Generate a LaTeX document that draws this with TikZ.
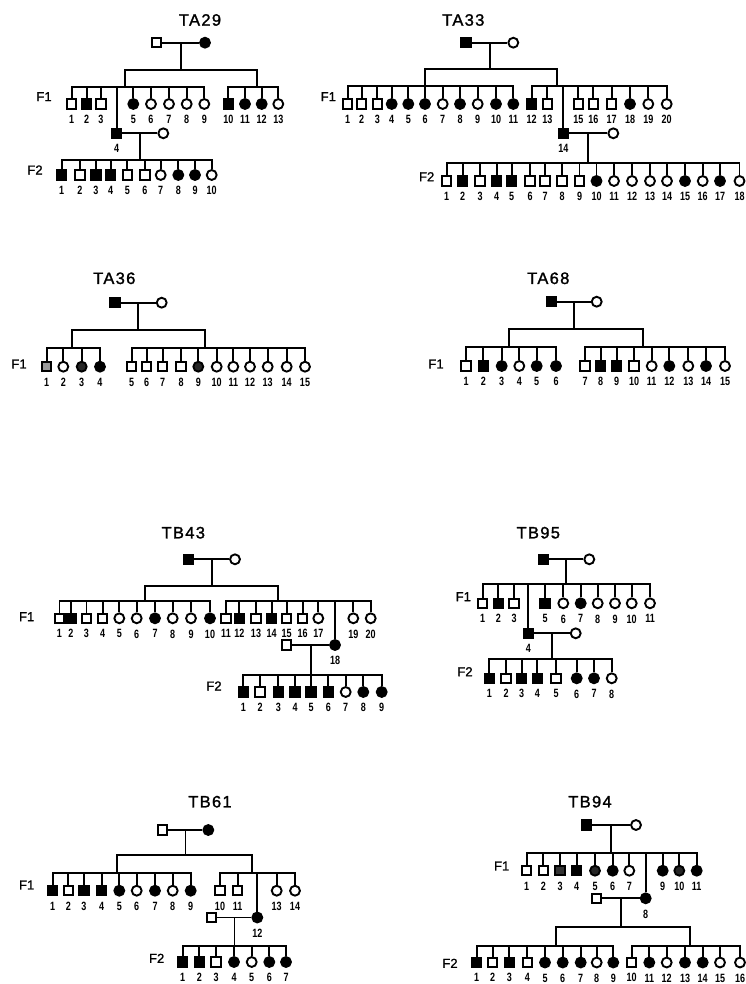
\documentclass[tikz,border=0pt]{standalone}
\usepackage{fontspec}
\setmainfont{Liberation Sans}
\newfontfamily\numfont{Liberation Sans}[FakeStretch=0.75]
\newfontfamily\genfont{Liberation Sans}[FakeBold=1.2]
\newfontfamily\titlefont{Liberation Sans}[LetterSpace=8,FakeBold=1.4]
\usetikzlibrary{calc}

\tikzset{
  ind/.style={draw, inner sep=0pt},
  msq/.style={ind, rectangle, minimum size=9.4pt},
  asq/.style={msq, fill=black},
  dsq/.style={msq, fill=black!80},
  gsq/.style={msq, fill=black!40},
  fci/.style={ind, circle, minimum size=9.9pt},
  aci/.style={fci, fill=black},
  dci/.style={fci, fill=black!85},
  nlab/.style={font=\numfont\bfseries\fontsize{12}{12}\selectfont, inner sep=0pt},
  gen/.style={font=\genfont\fontsize{13}{13}\selectfont, inner sep=0pt},
  ttl/.style={font=\titlefont\fontsize{16.5}{16.5}\selectfont, inner sep=0pt},
  every label/.style={nlab}
}

\begin{document}
\begin{tikzpicture}[x=1pt,y=-1pt,line width=1.9pt,label distance=4.5pt]
	\useasboundingbox (0,0) rectangle (745,984);

	% ---------------- TA29
	\node[ttl] (a29t)  at (200,20)      {TA29};
	\node[msq] (a29pa) at (156.7,42.7)  {};
	\node[aci] (a29ma) at (205,42.7)    {};
	\node[gen] (a29F1) at (44,96.7)     {F1};
	\node[gen] (a29F2) at (35,170)      {F2};
	\node[msq,label=below:1]  (a29a1)  at (71.7,104)   {};
	\node[asq,label=below:2]  (a29a2)  at (86.7,104)   {};
	\node[msq,label=below:3]  (a29a3)  at (101,104)    {};
	\node[asq,label=below:4]  (a29a4)  at (116.7,133.3) {};
	\node[aci,label=below:5]  (a29a5)  at (133.3,104)  {};
	\node[fci,label=below:6]  (a29a6)  at (151,104)    {};
	\node[fci,label=below:7]  (a29a7)  at (169,104)    {};
	\node[fci,label=below:8]  (a29a8)  at (186.7,104)  {};
	\node[fci,label=below:9]  (a29a9)  at (204.3,104)  {};
	\node[asq,label=below:10] (a29a10) at (228.3,104)  {};
	\node[aci,label=below:11] (a29a11) at (245,104)    {};
	\node[aci,label=below:12] (a29a12) at (261.7,104)  {};
	\node[fci,label=below:13] (a29a13) at (278.3,104)  {};
	\node[fci]                (a29sp)  at (163.3,133.3) {};
	\node[asq,label=below:1]  (a29b1)  at (61.7,175)   {};
	\node[msq,label=below:2]  (a29b2)  at (80,175)     {};
	\node[asq,label=below:3]  (a29b3)  at (96,175)     {};
	\node[asq,label=below:4]  (a29b4)  at (110.7,175)  {};
	\node[msq,label=below:5]  (a29b5)  at (127.3,175)  {};
	\node[msq,label=below:6]  (a29b6)  at (145,175)    {};
	\node[fci,label=below:7]  (a29b7)  at (160.7,175)  {};
	\node[aci,label=below:8]  (a29b8)  at (178.3,175)  {};
	\node[aci,label=below:9]  (a29b9)  at (195,175)    {};
	\node[fci,label=below:10] (a29b10) at (211.7,175)  {};
	\coordinate (a29m)  at ($(a29pa)!.5!(a29ma)$);
	\coordinate (a29s)  at (a29m |- 0,70);
	\coordinate (a29g1) at (125,86.7);
	\coordinate (a29g2) at (256.7,86.7);
	\coordinate (a29m2) at ($(a29a4)!.5!(a29sp)$);
	\coordinate (a29s2) at (a29m2 |- 0,160);
	\draw (a29pa) -- (a29ma) (a29m) -- (a29s) (a29s) -| (a29g1) (a29s) -| (a29g2);
	\draw (a29g1) -| (a29a1) (a29g1) -| (a29a2) (a29g1) -| (a29a3) (a29g1) -| (a29a4)
	      (a29g1) -| (a29a5) (a29g1) -| (a29a6) (a29g1) -| (a29a7) (a29g1) -| (a29a8)
	      (a29g1) -| (a29a9);
	\draw (a29g2) -| (a29a10) (a29g2) -| (a29a11) (a29g2) -| (a29a12) (a29g2) -| (a29a13);
	\draw (a29a4) -- (a29sp) (a29m2) -- (a29s2);
	\draw (a29s2) -| (a29b1) (a29s2) -| (a29b2) (a29s2) -| (a29b3) (a29s2) -| (a29b4)
	      (a29s2) -| (a29b5) (a29s2) -| (a29b6) (a29s2) -| (a29b7) (a29s2) -| (a29b8)
	      (a29s2) -| (a29b9) (a29s2) -| (a29b10);

	% ---------------- TA33
	\node[ttl] (a33t)  at (463.3,20)    {TA33};
	\node[asq] (a33pa) at (466,42.7)    {};
	\node[fci] (a33ma) at (513.3,42.7)  {};
	\node[gen] (a33F1) at (328.3,96.7)  {F1};
	\node[gen] (a33F2) at (426.7,176.7) {F2};
	\node[msq,label=below:1]  (a33a1)  at (347.7,104) {};
	\node[msq,label=below:2]  (a33a2)  at (361.7,104) {};
	\node[msq,label=below:3]  (a33a3)  at (377.3,104) {};
	\node[aci,label=below:4]  (a33a4)  at (391.7,104) {};
	\node[aci,label=below:5]  (a33a5)  at (408.3,104) {};
	\node[aci,label=below:6]  (a33a6)  at (425,104)   {};
	\node[fci,label=below:7]  (a33a7)  at (442.7,104) {};
	\node[aci,label=below:8]  (a33a8)  at (460,104)   {};
	\node[fci,label=below:9]  (a33a9)  at (477.7,104) {};
	\node[aci,label=below:10] (a33a10) at (496,104)   {};
	\node[aci,label=below:11] (a33a11) at (513.3,104) {};
	\node[asq,label=below:12] (a33a12) at (531.7,104) {};
	\node[msq,label=below:13] (a33a13) at (547.3,104) {};
	\node[asq,label=below:14] (a33a14) at (563.3,133.3) {};
	\node[msq,label=below:15] (a33a15) at (578.3,104) {};
	\node[msq,label=below:16] (a33a16) at (593.3,104) {};
	\node[msq,label=below:17] (a33a17) at (611.7,104) {};
	\node[aci,label=below:18] (a33a18) at (630,104)   {};
	\node[fci,label=below:19] (a33a19) at (648.3,104) {};
	\node[fci,label=below:20] (a33a20) at (666.7,104) {};
	\node[fci]                (a33sp)  at (613.3,133.3) {};
	\node[msq,label=below:1]  (a33b1)  at (446.7,181) {};
	\node[asq,label=below:2]  (a33b2)  at (462.7,181) {};
	\node[msq,label=below:3]  (a33b3)  at (480,181)   {};
	\node[asq,label=below:4]  (a33b4)  at (496.7,181) {};
	\node[asq,label=below:5]  (a33b5)  at (511.7,181) {};
	\node[msq,label=below:6]  (a33b6)  at (530,181)   {};
	\node[msq,label=below:7]  (a33b7)  at (545,181)   {};
	\node[msq,label=below:8]  (a33b8)  at (562,181)   {};
	\node[msq,label=below:9]  (a33b9)  at (579.5,181) {};
	\node[aci,label=below:10] (a33b10) at (596.5,181) {};
	\node[fci,label=below:11] (a33b11) at (614,181)   {};
	\node[fci,label=below:12] (a33b12) at (632,181)   {};
	\node[fci,label=below:13] (a33b13) at (650,181)   {};
	\node[fci,label=below:14] (a33b14) at (667,181)   {};
	\node[aci,label=below:15] (a33b15) at (685,181)   {};
	\node[fci,label=below:16] (a33b16) at (702.7,181) {};
	\node[aci,label=below:17] (a33b17) at (720,181)   {};
	\node[fci,label=below:18] (a33b18) at (739.5,181) {};
	\coordinate (a33m)  at ($(a33pa)!.5!(a33ma)$);
	\coordinate (a33s)  at (a33m |- 0,69.3);
	\coordinate (a33g1) at (425,86);
	\coordinate (a33g2) at (556.7,86);
	\coordinate (a33m2) at ($(a33a14)!.5!(a33sp)$);
	\coordinate (a33s2) at (a33m2 |- 0,162.7);
	\draw (a33pa) -- (a33ma) (a33m) -- (a33s) (a33s) -| (a33g1) (a33s) -| (a33g2);
	\draw (a33g1) -| (a33a1) (a33g1) -| (a33a2) (a33g1) -| (a33a3) (a33g1) -| (a33a4)
	      (a33g1) -| (a33a5) (a33g1) -| (a33a6) (a33g1) -| (a33a7) (a33g1) -| (a33a8)
	      (a33g1) -| (a33a9) (a33g1) -| (a33a10) (a33g1) -| (a33a11);
	\draw (a33g2) -| (a33a12) (a33g2) -| (a33a13) (a33g2) -| (a33a14) (a33g2) -| (a33a15)
	      (a33g2) -| (a33a16) (a33g2) -| (a33a17) (a33g2) -| (a33a18) (a33g2) -| (a33a19)
	      (a33g2) -| (a33a20);
	\draw (a33a14) -- (a33sp) (a33m2) -- (a33s2);
	\draw (a33s2) -| (a33b1) (a33s2) -| (a33b2) (a33s2) -| (a33b3) (a33s2) -| (a33b4)
	      (a33s2) -| (a33b5) (a33s2) -| (a33b6) (a33s2) -| (a33b7) (a33s2) -| (a33b8)
	      (a33s2) -| (a33b9) (a33s2) -| (a33b10) (a33s2) -| (a33b11) (a33s2) -| (a33b12)
	      (a33s2) -| (a33b13) (a33s2) -| (a33b14) (a33s2) -| (a33b15) (a33s2) -| (a33b16)
	      (a33s2) -| (a33b17) (a33s2) -| (a33b18);

	% ---------------- TA36
	\node[ttl] (a36t)  at (114.3,278.3) {TA36};
	\node[asq] (a36pa) at (115,302.7)   {};
	\node[fci] (a36ma) at (161.7,302.7) {};
	\node[gen] (a36F1) at (19,364)      {F1};
	\node[gsq,label=below:1]  (a36a1)  at (46.7,366.7)  {};
	\node[fci,label=below:2]  (a36a2)  at (63.3,366.7)  {};
	\node[dci,label=below:3]  (a36a3)  at (81.7,366.7)  {};
	\node[aci,label=below:4]  (a36a4)  at (100,366.7)   {};
	\node[msq,label=below:5]  (a36a5)  at (131.7,366.7) {};
	\node[msq,label=below:6]  (a36a6)  at (146.7,366.7) {};
	\node[msq,label=below:7]  (a36a7)  at (162.7,366.7) {};
	\node[msq,label=below:8]  (a36a8)  at (181,366.7)   {};
	\node[dci,label=below:9]  (a36a9)  at (198.3,366.7) {};
	\node[fci,label=below:10] (a36a10) at (216.7,366.7) {};
	\node[fci,label=below:11] (a36a11) at (233.3,366.7) {};
	\node[fci,label=below:12] (a36a12) at (250,366.7)   {};
	\node[fci,label=below:13] (a36a13) at (267.7,366.7) {};
	\node[fci,label=below:14] (a36a14) at (286.7,366.7) {};
	\node[fci,label=below:15] (a36a15) at (305,366.7)   {};
	\coordinate (a36m)  at ($(a36pa)!.5!(a36ma)$);
	\coordinate (a36s)  at (a36m |- 0,330);
	\coordinate (a36g1) at (71.7,348.3);
	\coordinate (a36g2) at (205,348.3);
	\draw (a36pa) -- (a36ma) (a36m) -- (a36s) (a36s) -| (a36g1) (a36s) -| (a36g2);
	\draw (a36g1) -| (a36a1) (a36g1) -| (a36a2) (a36g1) -| (a36a3) (a36g1) -| (a36a4);
	\draw (a36g2) -| (a36a5) (a36g2) -| (a36a6) (a36g2) -| (a36a7) (a36g2) -| (a36a8)
	      (a36g2) -| (a36a9) (a36g2) -| (a36a10) (a36g2) -| (a36a11) (a36g2) -| (a36a12)
	      (a36g2) -| (a36a13) (a36g2) -| (a36a14) (a36g2) -| (a36a15);

	% ---------------- TA68
	\node[ttl] (a68t)  at (548.3,278.3) {TA68};
	\node[asq] (a68pa) at (551.7,301.7) {};
	\node[fci] (a68ma) at (596.7,301.7) {};
	\node[gen] (a68F1) at (436,364)     {F1};
	\node[msq,label=below:1]  (a68a1)  at (466,366)   {};
	\node[asq,label=below:2]  (a68a2)  at (483.3,366) {};
	\node[aci,label=below:3]  (a68a3)  at (501.7,366) {};
	\node[fci,label=below:4]  (a68a4)  at (519.3,366) {};
	\node[aci,label=below:5]  (a68a5)  at (536.7,366) {};
	\node[aci,label=below:6]  (a68a6)  at (556,366)   {};
	\node[msq,label=below:7]  (a68a7)  at (585,366)   {};
	\node[asq,label=below:8]  (a68a8)  at (600.7,366) {};
	\node[asq,label=below:9]  (a68a9)  at (616.7,366) {};
	\node[msq,label=below:10] (a68a10) at (634,366)   {};
	\node[fci,label=below:11] (a68a11) at (651.7,366) {};
	\node[aci,label=below:12] (a68a12) at (669.3,366) {};
	\node[fci,label=below:13] (a68a13) at (688.3,366) {};
	\node[aci,label=below:14] (a68a14) at (706,366)   {};
	\node[fci,label=below:15] (a68a15) at (725,366)   {};
	\coordinate (a68m)  at ($(a68pa)!.5!(a68ma)$);
	\coordinate (a68s)  at (a68m |- 0,329.3);
	\coordinate (a68g1) at (509.3,347.3);
	\coordinate (a68g2) at (642.7,347.3);
	\draw (a68pa) -- (a68ma) (a68m) -- (a68s) (a68s) -| (a68g1) (a68s) -| (a68g2);
	\draw (a68g1) -| (a68a1) (a68g1) -| (a68a2) (a68g1) -| (a68a3) (a68g1) -| (a68a4)
	      (a68g1) -| (a68a5) (a68g1) -| (a68a6);
	\draw (a68g2) -| (a68a7) (a68g2) -| (a68a8) (a68g2) -| (a68a9) (a68g2) -| (a68a10)
	      (a68g2) -| (a68a11) (a68g2) -| (a68a12) (a68g2) -| (a68a13) (a68g2) -| (a68a14)
	      (a68g2) -| (a68a15);

	% ---------------- TB43
	\node[ttl] (b43t)  at (183.3,532.7) {TB43};
	\node[asq] (b43pa) at (188.3,559.3) {};
	\node[fci] (b43ma) at (235,559.3)   {};
	\node[gen] (b43F1) at (26.7,616.7)  {F1};
	\node[gen] (b43F2) at (214,686)     {F2};
	\node[msq,label=below:1]  (b43a1)  at (59.5,618.3)  {};
	\node[asq,label=below:2]  (b43a2)  at (71,618.3)    {};
	\node[msq,label=below:3]  (b43a3)  at (86.5,618.3)  {};
	\node[msq,label=below:4]  (b43a4)  at (102.7,618.3) {};
	\node[fci,label=below:5]  (b43a5)  at (119.3,618.3) {};
	\node[fci,label=below:6]  (b43a6)  at (136.7,618.3) {};
	\node[aci,label=below:7]  (b43a7)  at (155,618.3)   {};
	\node[fci,label=below:8]  (b43a8)  at (172.7,618.3) {};
	\node[fci,label=below:9]  (b43a9)  at (191,618.3)   {};
	\node[aci,label=below:10] (b43a10) at (210,618.3)   {};
	\node[msq,label=below:11] (b43a11) at (226,618.3)   {};
	\node[asq,label=below:12] (b43a12) at (239.3,618.3) {};
	\node[msq,label=below:13] (b43a13) at (256,618.3)   {};
	\node[asq,label=below:14] (b43a14) at (271.7,618.3) {};
	\node[msq,label=below:15] (b43a15) at (286.7,618.3) {};
	\node[msq,label=below:16] (b43a16) at (302.7,618.3) {};
	\node[fci,label=below:17] (b43a17) at (318.3,618.3) {};
	\node[aci,label=below:18] (b43a18) at (335,645)     {};
	\node[fci,label=below:19] (b43a19) at (353.3,618.3) {};
	\node[fci,label=below:20] (b43a20) at (370.7,618.3) {};
	\node[msq]                (b43sp)  at (286.7,645)   {};
	\node[asq,label=below:1]  (b43b1)  at (243.3,692) {};
	\node[msq,label=below:2]  (b43b2)  at (260,692)   {};
	\node[asq,label=below:3]  (b43b3)  at (278.3,692) {};
	\node[asq,label=below:4]  (b43b4)  at (295,692)   {};
	\node[asq,label=below:5]  (b43b5)  at (311,692)   {};
	\node[asq,label=below:6]  (b43b6)  at (328.3,692) {};
	\node[fci,label=below:7]  (b43b7)  at (345.7,692) {};
	\node[aci,label=below:8]  (b43b8)  at (363.3,692) {};
	\node[aci,label=below:9]  (b43b9)  at (381.7,692) {};
	\coordinate (b43m)  at ($(b43pa)!.5!(b43ma)$);
	\coordinate (b43s)  at (b43m |- 0,585.7);
	\coordinate (b43g1) at (145,601);
	\coordinate (b43g2) at (278.3,601);
	\coordinate (b43m2) at ($(b43sp)!.5!(b43a18)$);
	\coordinate (b43s2) at (b43m2 |- 0,675);
	\draw (b43pa) -- (b43ma) (b43m) -- (b43s) (b43s) -| (b43g1) (b43s) -| (b43g2);
	\draw (b43g1) -| (b43a1) (b43g1) -| (b43a2) (b43g1) -| (b43a3) (b43g1) -| (b43a4)
	      (b43g1) -| (b43a5) (b43g1) -| (b43a6) (b43g1) -| (b43a7) (b43g1) -| (b43a8)
	      (b43g1) -| (b43a9) (b43g1) -| (b43a10);
	\draw (b43g2) -| (b43a11) (b43g2) -| (b43a12) (b43g2) -| (b43a13) (b43g2) -| (b43a14)
	      (b43g2) -| (b43a15) (b43g2) -| (b43a16) (b43g2) -| (b43a17) (b43g2) -| (b43a18)
	      (b43g2) -| (b43a19) (b43g2) -| (b43a20);
	\draw (b43sp) -- (b43a18) (b43m2) -- (b43s2);
	\draw (b43s2) -| (b43b1) (b43s2) -| (b43b2) (b43s2) -| (b43b3) (b43s2) -| (b43b4)
	      (b43s2) -| (b43b5) (b43s2) -| (b43b6) (b43s2) -| (b43b7) (b43s2) -| (b43b8)
	      (b43s2) -| (b43b9);

	% ---------------- TB95
	\node[ttl] (b95t)  at (538.3,532.7) {TB95};
	\node[asq] (b95pa) at (543.3,559.3) {};
	\node[fci] (b95ma) at (589.3,559.3) {};
	\node[gen] (b95F1) at (463.3,596.7) {F1};
	\node[gen] (b95F2) at (465,671.7)   {F2};
	\node[msq,label=below:1]  (b95a1)  at (482.7,603.3) {};
	\node[asq,label=below:2]  (b95a2)  at (498.3,603.3) {};
	\node[msq,label=below:3]  (b95a3)  at (514,603.3)   {};
	\node[asq,label=below:4]  (b95a4)  at (528.3,633.3) {};
	\node[asq,label=below:5]  (b95a5)  at (545,603.3)   {};
	\node[fci,label=below:6]  (b95a6)  at (563.3,603.3) {};
	\node[aci,label=below:7]  (b95a7)  at (580.7,603.3) {};
	\node[fci,label=below:8]  (b95a8)  at (597.7,603.3) {};
	\node[fci,label=below:9]  (b95a9)  at (615,603.3)   {};
	\node[fci,label=below:10] (b95a10) at (631.7,603.3) {};
	\node[fci,label=below:11] (b95a11) at (650,603.3)   {};
	\node[fci]                (b95sp)  at (575.7,633.3) {};
	\node[asq,label=below:1]  (b95b1)  at (489.3,678.3) {};
	\node[msq,label=below:2]  (b95b2)  at (506,678.3)   {};
	\node[asq,label=below:3]  (b95b3)  at (521.7,678.3) {};
	\node[asq,label=below:4]  (b95b4)  at (537.3,678.3) {};
	\node[msq,label=below:5]  (b95b5)  at (556,678.3)   {};
	\node[aci,label=below:6]  (b95b6)  at (576.7,678.3) {};
	\node[aci,label=below:7]  (b95b7)  at (594,678.3)   {};
	\node[fci,label=below:8]  (b95b8)  at (611.7,678.3) {};
	\coordinate (b95m)  at ($(b95pa)!.5!(b95ma)$);
	\coordinate (b95s)  at (b95m |- 0,584.3);
	\coordinate (b95m2) at ($(b95a4)!.5!(b95sp)$);
	\coordinate (b95s2) at (b95m2 |- 0,659.3);
	\draw (b95pa) -- (b95ma) (b95m) -- (b95s);
	\draw (b95s) -| (b95a1) (b95s) -| (b95a2) (b95s) -| (b95a3) (b95s) -| (b95a4)
	      (b95s) -| (b95a5) (b95s) -| (b95a6) (b95s) -| (b95a7) (b95s) -| (b95a8)
	      (b95s) -| (b95a9) (b95s) -| (b95a10) (b95s) -| (b95a11);
	\draw (b95a4) -- (b95sp) (b95m2) -- (b95s2);
	\draw (b95s2) -| (b95b1) (b95s2) -| (b95b2) (b95s2) -| (b95b3) (b95s2) -| (b95b4)
	      (b95s2) -| (b95b5) (b95s2) -| (b95b6) (b95s2) -| (b95b7) (b95s2) -| (b95b8);

	% ---------------- TB61
	\node[ttl] (b61t)  at (210,801.7)   {TB61};
	\node[msq] (b61pa) at (162.7,830)   {};
	\node[aci] (b61ma) at (208.3,830)   {};
	\node[gen] (b61F1) at (26.7,885)    {F1};
	\node[gen] (b61F2) at (156.7,958.3) {F2};
	\node[asq,label=below:1]  (b61a1)  at (52.7,890.7)  {};
	\node[msq,label=below:2]  (b61a2)  at (68.3,890.7)  {};
	\node[asq,label=below:3]  (b61a3)  at (84,890.7)    {};
	\node[asq,label=below:4]  (b61a4)  at (101.7,890.7) {};
	\node[aci,label=below:5]  (b61a5)  at (119.3,890.7) {};
	\node[fci,label=below:6]  (b61a6)  at (136.7,890.7) {};
	\node[aci,label=below:7]  (b61a7)  at (155,890.7)   {};
	\node[fci,label=below:8]  (b61a8)  at (172.7,890.7) {};
	\node[aci,label=below:9]  (b61a9)  at (190.7,890.7) {};
	\node[msq,label=below:10] (b61a10) at (220,890.7)   {};
	\node[msq,label=below:11] (b61a11) at (237.7,890.7) {};
	\node[aci,label=below:12] (b61a12) at (257.3,917.5) {};
	\node[fci,label=below:13] (b61a13) at (276.7,890.7) {};
	\node[fci,label=below:14] (b61a14) at (295,890.7)   {};
	\node[msq]                (b61sp)  at (211.7,917.5) {};
	\node[asq,label=below:1]  (b61b1)  at (182.7,962) {};
	\node[asq,label=below:2]  (b61b2)  at (199.3,962) {};
	\node[msq,label=below:3]  (b61b3)  at (216,962)   {};
	\node[aci,label=below:4]  (b61b4)  at (234,962)   {};
	\node[fci,label=below:5]  (b61b5)  at (251.7,962) {};
	\node[aci,label=below:6]  (b61b6)  at (269.3,962) {};
	\node[aci,label=below:7]  (b61b7)  at (286,962)   {};
	\coordinate (b61m)  at ($(b61pa)!.5!(b61ma)$);
	\coordinate (b61s)  at (b61m |- 0,855);
	\coordinate (b61g1) at (117.3,872.7);
	\coordinate (b61g2) at (252.3,872.7);
	\coordinate (b61m2) at ($(b61sp)!.5!(b61a12)$);
	\coordinate (b61s2) at (b61m2 |- 0,946);
	\draw (b61pa) -- (b61ma) (b61m) -- (b61s) (b61s) -| (b61g1) (b61s) -| (b61g2);
	\draw (b61g1) -| (b61a1) (b61g1) -| (b61a2) (b61g1) -| (b61a3) (b61g1) -| (b61a4)
	      (b61g1) -| (b61a5) (b61g1) -| (b61a6) (b61g1) -| (b61a7) (b61g1) -| (b61a8)
	      (b61g1) -| (b61a9);
	\draw (b61g2) -| (b61a10) (b61g2) -| (b61a11) (b61g2) -| (b61a12) (b61g2) -| (b61a13)
	      (b61g2) -| (b61a14);
	\draw (b61sp) -- (b61a12) (b61m2) -- (b61s2);
	\draw (b61s2) -| (b61b1) (b61s2) -| (b61b2) (b61s2) -| (b61b3) (b61s2) -| (b61b4)
	      (b61s2) -| (b61b5) (b61s2) -| (b61b6) (b61s2) -| (b61b7);

	% ---------------- TB94
	\node[ttl] (b94t)  at (590,801.7)   {TB94};
	\node[asq] (b94pa) at (586.7,825)   {};
	\node[fci] (b94ma) at (636,825)     {};
	\node[gen] (b94F1) at (501.7,866)   {F1};
	\node[gen] (b94F2) at (450,963.3)   {F2};
	\node[msq,label=below:1]  (b94a1)  at (526.7,870.7) {};
	\node[msq,label=below:2]  (b94a2)  at (543.3,870.7) {};
	\node[dsq,label=below:3]  (b94a3)  at (560,870.7)   {};
	\node[asq,label=below:4]  (b94a4)  at (576.7,870.7) {};
	\node[dci,label=below:5]  (b94a5)  at (595,870.7)   {};
	\node[aci,label=below:6]  (b94a6)  at (612.7,870.7) {};
	\node[fci,label=below:7]  (b94a7)  at (629.3,870.7) {};
	\node[aci,label=below:8]  (b94a8)  at (645.7,898.3) {};
	\node[aci,label=below:9]  (b94a9)  at (662.7,870.7) {};
	\node[dci,label=below:10] (b94a10) at (679.3,870.7) {};
	\node[aci,label=below:11] (b94a11) at (696.7,870.7) {};
	\node[msq]                (b94sp)  at (596.7,898.3) {};
	\node[asq,label=below:1]  (b94b1)  at (476.7,962.5) {};
	\node[msq,label=below:2]  (b94b2)  at (492.7,962.5) {};
	\node[asq,label=below:3]  (b94b3)  at (509.3,962.5) {};
	\node[msq,label=below:4]  (b94b4)  at (527.3,962.5) {};
	\node[aci,label=below:5]  (b94b5)  at (545,962.5)   {};
	\node[aci,label=below:6]  (b94b6)  at (562.7,962.5) {};
	\node[aci,label=below:7]  (b94b7)  at (580.7,962.5) {};
	\node[fci,label=below:8]  (b94b8)  at (596.7,962.5) {};
	\node[aci,label=below:9]  (b94b9)  at (613.3,962.5) {};
	\node[msq,label=below:10] (b94b10) at (631.7,962.5) {};
	\node[aci,label=below:11] (b94b11) at (649.3,962.5) {};
	\node[fci,label=below:12] (b94b12) at (666.7,962.5) {};
	\node[aci,label=below:13] (b94b13) at (685,962.5)   {};
	\node[aci,label=below:14] (b94b14) at (702.7,962.5) {};
	\node[fci,label=below:15] (b94b15) at (720,962.5)   {};
	\node[fci,label=below:16] (b94b16) at (740,962.5)   {};
	\coordinate (b94m)  at ($(b94pa)!.5!(b94ma)$);
	\coordinate (b94s)  at (b94m |- 0,852.7);
	\coordinate (b94m2) at ($(b94sp)!.5!(b94a8)$);
	\coordinate (b94s2) at (b94m2 |- 0,927.3);
	\coordinate (b94g1) at (556,946);
	\coordinate (b94g2) at (690,946);
	\draw (b94pa) -- (b94ma) (b94m) -- (b94s);
	\draw (b94s) -| (b94a1) (b94s) -| (b94a2) (b94s) -| (b94a3) (b94s) -| (b94a4)
	      (b94s) -| (b94a5) (b94s) -| (b94a6) (b94s) -| (b94a7) (b94s) -| (b94a8)
	      (b94s) -| (b94a9) (b94s) -| (b94a10) (b94s) -| (b94a11);
	\draw (b94sp) -- (b94a8) (b94m2) -- (b94s2) (b94s2) -| (b94g1) (b94s2) -| (b94g2);
	\draw (b94g1) -| (b94b1) (b94g1) -| (b94b2) (b94g1) -| (b94b3) (b94g1) -| (b94b4)
	      (b94g1) -| (b94b5) (b94g1) -| (b94b6) (b94g1) -| (b94b7) (b94g1) -| (b94b8)
	      (b94g1) -| (b94b9);
	\draw (b94g2) -| (b94b10) (b94g2) -| (b94b11) (b94g2) -| (b94b12) (b94g2) -| (b94b13)
	      (b94g2) -| (b94b14) (b94g2) -| (b94b15) (b94g2) -| (b94b16);
\end{tikzpicture}
\end{document}
